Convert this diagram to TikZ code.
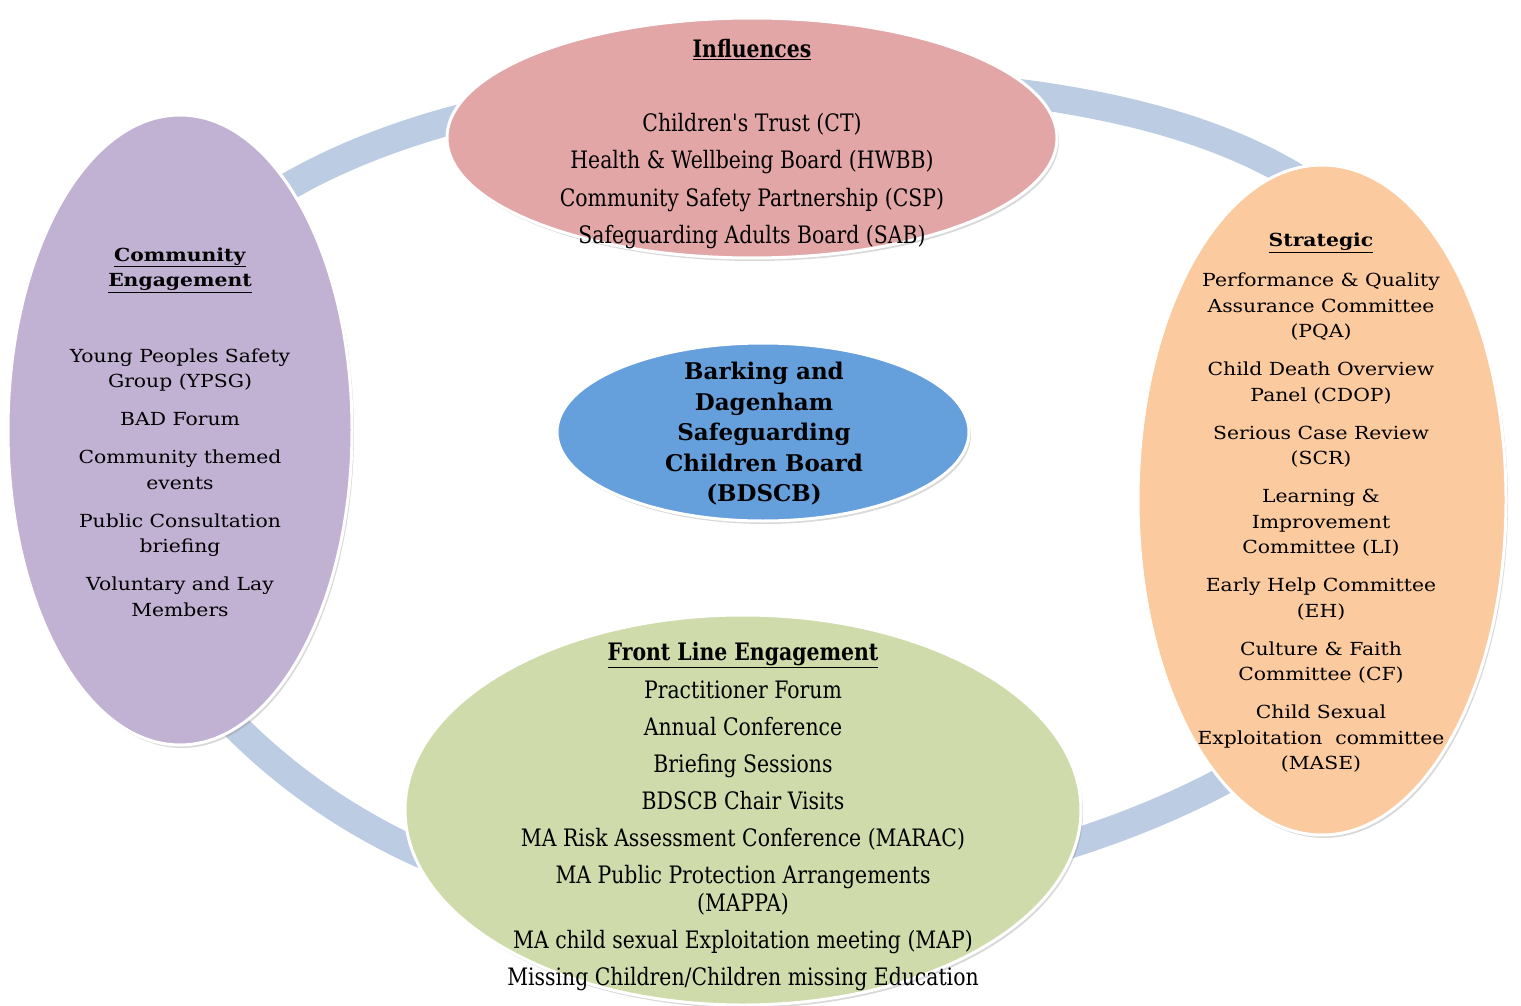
\documentclass[tikz,border=0pt]{standalone}
\usepackage{fontspec}
\setmainfont{DejaVu Serif}
\newfontfamily\narrowserif[FakeStretch=0.85]{DejaVu Serif}
\newfontfamily\wideserif[FakeStretch=1.13]{DejaVu Serif}
\usetikzlibrary{shapes.geometric,shadows}
\definecolor{ringblue}{HTML}{BCCCE2}
\definecolor{inflpink}{HTML}{E2A6A6}
\definecolor{commpurple}{HTML}{C1B1D3}
\definecolor{stratorange}{HTML}{FBCA9F}
\definecolor{frontgreen}{HTML}{CFDBAA}
\definecolor{boardblue}{HTML}{65A0DC}
\begin{document}
\begin{tikzpicture}
        [x=1pt,y=-1pt,
        blobdecorate/.style={shape=ellipse,draw=white,line width=3pt,inner sep=0pt,
          drop shadow={shadow xshift=2pt,shadow yshift=-3pt,opacity=0.3}},
        ringdecorate/.style={line width=28pt,draw=ringblue},
        widetext/.style={align=center,inner sep=0pt,font=\wideserif\fontsize{18}{25.5}\selectfont},
        narrowtext/.style={align=center,inner sep=0pt,font=\narrowserif\fontsize{24}{28}\selectfont}]
        \useasboundingbox (0,0) rectangle (1521,1006);
        %% ring behind the groups
        \draw[ringdecorate] (790,80) .. controls (1249,80) and (1455,204) .. (1455,480)
          .. controls (1455,718) and (1101,905) .. (650,905)
          .. controls (380,905) and (110,682) .. (110,460)
          .. controls (110,228) and (375,80) .. cycle;
        %% groups
        \foreach \nodename/\x/\y/\w/\h/\colour in {infl/752/138/610/240/inflpink,
          comm/180/430/344/630/commpurple, strat/1322/500/368/670/stratorange,
          front/743/810/676/390/frontgreen, board/763/432/412/178/boardblue}
        {
          \node (\nodename) at (\x,\y) [blobdecorate,fill=\colour,minimum width=\w,minimum height=\h] {};
        }
        %% texts
        \node (infltext) at (752,144) [narrowtext] {\underline{\textbf{Influences}}\\[46pt]
          Children's Trust (CT)\\[9.5pt]
          Health \& Wellbeing Board (HWBB)\\[9.5pt]
          Community Safety Partnership (CSP)\\[9.5pt]
          Safeguarding Adults Board (SAB)};
        \node (boardtext) at (764,434) [align=center,inner sep=0pt,font=\fontsize{23}{30.5}\selectfont\bfseries]
          {Barking and\\Dagenham\\Safeguarding\\Children Board\\(BDSCB)};
        \node (commtext) at (180,432) [widetext] {\underline{\textbf{Community}}\\\underline{\textbf{Engagement}}\\[50pt]
          Young Peoples Safety\\Group (YPSG)\\[12.5pt]
          BAD Forum\\[12.5pt]
          Community themed\\events\\[12.5pt]
          Public Consultation\\briefing\\[12.5pt]
          Voluntary and Lay\\Members};
        \node (strattext) at (1321,503) [widetext] {\underline{\textbf{Strategic}}\\[14.5pt]
          Performance \& Quality\\Assurance Committee\\(PQA)\\[12.5pt]
          Child Death Overview\\Panel (CDOP)\\[12.5pt]
          Serious Case Review\\(SCR)\\[12.5pt]
          Learning \&\\Improvement\\Committee (LI)\\[12.5pt]
          Early Help Committee\\(EH)\\[12.5pt]
          Culture \& Faith\\Committee (CF)\\[12.5pt]
          Child Sexual\\Exploitation\ \ committee\\(MASE)};
        \node (fronttext) at (743,817) [narrowtext] {\underline{\textbf{Front Line Engagement}}\\[10pt]
          Practitioner Forum\\[9pt]
          Annual Conference\\[9pt]
          Briefing Sessions\\[9pt]
          BDSCB Chair Visits\\[9pt]
          MA Risk Assessment Conference (MARAC)\\[9pt]
          MA Public Protection Arrangements\\(MAPPA)\\[9pt]
          MA child sexual Exploitation meeting (MAP)\\[9pt]
          Missing Children/Children missing Education};
      \end{tikzpicture}
\end{document}
